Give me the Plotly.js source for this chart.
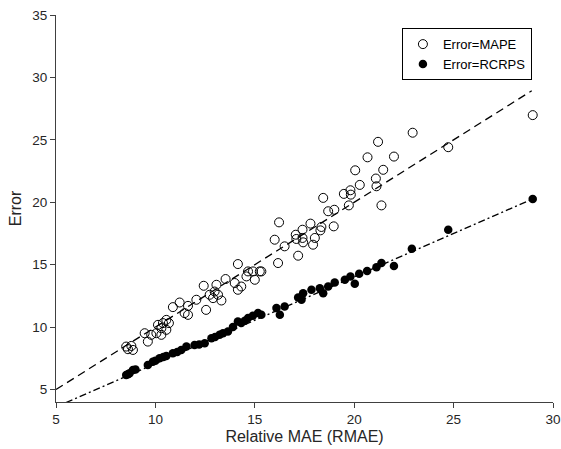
<!DOCTYPE html>
<html>
<head>
<meta charset="utf-8">
<script src="https://cdn.plot.ly/plotly-3.0.1.min.js"></script>
<style>html,body{margin:0;padding:0;background:#fff;}#chart{width:561px;height:449px;}</style>
</head>
<body>
<div id="chart"></div>
<script>
// Error = MAPE (open circles)
var mapeX = [8.53,8.62,8.79,8.87,9.46,9.62,9.79,10.05,10.13,10.3,10.3,10.38,10.55,10.55,10.68,10.88,11.22,11.47,11.64,11.64,12.06,12.43,12.55,12.73,12.9,12.98,13.07,13.15,13.32,13.53,13.99,14.15,14.15,14.32,14.58,14.66,14.91,15.0,15.25,15.33,16.0,16.17,16.22,16.5,17.06,17.09,17.18,17.4,17.4,17.43,17.8,17.93,18.02,18.3,18.35,18.44,18.69,18.97,19.0,19.48,19.73,19.81,19.83,20.05,20.28,20.67,21.09,21.12,21.2,21.37,21.46,22.0,22.94,24.73,28.98];
var mapeY = [8.44,8.23,8.49,8.17,9.51,8.84,9.38,9.51,10.18,9.91,9.38,10.32,10.58,9.78,10.32,11.6,11.97,11.12,11.7,10.98,12.19,13.31,11.38,12.59,12.32,12.85,13.39,12.59,12.13,13.85,13.53,15.05,12.99,13.25,14.06,14.46,14.46,13.79,14.46,14.46,17.0,15.13,18.39,16.47,17.4,17.06,15.72,17.8,17.14,16.79,18.29,16.6,17.14,17.75,18.02,20.35,19.28,18.07,19.4,20.67,19.75,20.96,20.61,22.56,21.39,23.6,21.9,21.28,24.84,19.75,22.6,23.66,25.57,24.41,26.98];
// Error = RCRPS (filled circles)
var rcrpsX = [8.53,8.62,8.7,8.87,9.0,9.62,9.87,10.0,10.21,10.4,10.55,10.88,11.1,11.3,11.56,11.97,12.2,12.48,12.82,13.0,13.23,13.4,13.65,13.9,14.15,14.32,14.5,14.66,14.9,15.16,15.33,16.09,16.26,16.5,17.18,17.35,17.43,17.85,18.27,18.44,18.69,19.02,19.53,19.81,20.03,20.25,20.65,21.12,21.37,22.0,22.9,24.73,28.98];
var rcrpsY = [6.17,6.22,6.3,6.57,6.6,6.97,7.23,7.3,7.51,7.6,7.69,7.91,8.0,8.17,8.44,8.57,8.6,8.71,9.11,9.2,9.38,9.5,9.64,10.0,10.45,10.32,10.5,10.72,10.9,11.12,10.98,11.52,10.98,11.65,12.37,12.19,12.72,12.99,13.12,12.72,13.25,13.57,13.8,14.06,13.47,14.27,14.5,14.8,15.13,14.9,16.28,17.8,20.27];
// Fit lines
var mapeFitX = [5, 28.93];
var mapeFitY = [5, 28.93];
var rcrpsFitX = [5.5, 28.98];
var rcrpsFitY = [3.95, 20.27];
var xTicks = [5,10,15,20,25,30];
var yTicks = [5,10,15,20,25,30,35];

var font = 'Arial, "Liberation Sans", Helvetica, sans-serif';
var traces = [
  {x: mapeFitX, y: mapeFitY, mode: 'lines', line: {color: '#000', width: 1.3, dash: '8px,5px'}, showlegend: false, hoverinfo: 'skip'},
  {x: rcrpsFitX, y: rcrpsFitY, mode: 'lines', line: {color: '#000', width: 1.3, dash: '7px,3px,2px,3px'}, showlegend: false, hoverinfo: 'skip'},
  {x: mapeX, y: mapeY, mode: 'markers', name: 'Error=MAPE', cliponaxis: false,
   marker: {symbol: 'circle-open', size: 9, color: '#000', line: {width: 1, color: '#000'}}},
  {x: rcrpsX, y: rcrpsY, mode: 'markers', name: 'Error=RCRPS', cliponaxis: false,
   marker: {symbol: 'circle', size: 8.5, color: '#000', line: {width: 0}}}
];
var layout = {
  width: 561, height: 449,
  margin: {l: 56, r: 8, t: 15, b: 47},
  paper_bgcolor: '#fff', plot_bgcolor: '#fff',
  font: {family: font, size: 13.5, color: '#262626'},
  showlegend: true,
  legend: {x: 0.696, y: 0.966, xanchor: 'left', yanchor: 'top', bgcolor: '#fff', bordercolor: '#000', borderwidth: 1,
           font: {family: font, size: 13, color: '#000'}, tracegroupgap: 0, itemsizing: 'trace', entrywidth: 115},
  xaxis: {range: [5, 30], tickvals: xTicks, ticks: 'outside', ticklen: 5, tickcolor: '#404040',
          showline: true, linecolor: '#404040', linewidth: 1, showgrid: false, zeroline: false,
          tickfont: {size: 13.5, color: '#262626'},
          title: {text: 'Relative MAE (RMAE)', font: {size: 16, color: '#262626'}, standoff: 4}},
  yaxis: {range: [4, 35], tickvals: yTicks, ticks: 'outside', ticklen: 5, tickcolor: '#404040',
          showline: true, linecolor: '#404040', linewidth: 1, showgrid: false, zeroline: false,
          tickfont: {size: 13.5, color: '#262626'},
          title: {text: 'Error', font: {size: 16, color: '#262626'}, standoff: 6}}
};
Plotly.newPlot('chart', traces, layout, {displayModeBar: false, staticPlot: true});
</script>
</body>
</html>
